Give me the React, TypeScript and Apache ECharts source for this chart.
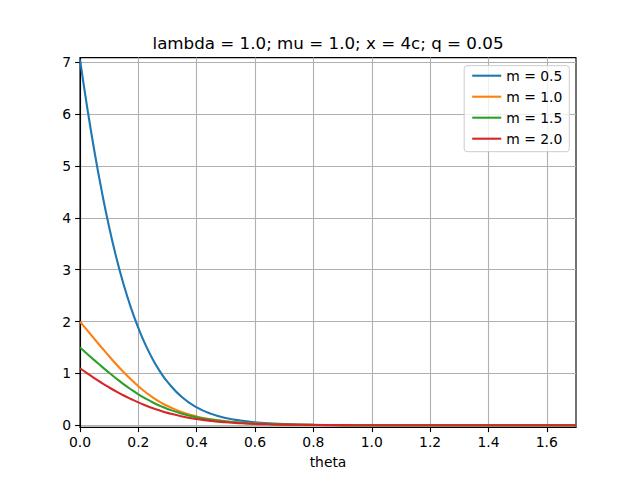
import React, { useEffect, useRef } from "react";
import * as echarts from "echarts";

const theta = [0, 0.025, 0.05, 0.075, 0.1, 0.125, 0.15, 0.175, 0.2, 0.225, 0.25, 0.275, 0.3, 0.35, 0.4, 0.45, 0.5, 0.55, 0.6, 0.65, 0.7, 0.8, 0.9, 1.0, 1.2, 1.4, 1.6, 1.7];
const m05 = [7.05, 6.117, 5.265, 4.5, 3.819, 3.222, 2.705, 2.259, 1.878, 1.545, 1.265, 1.031, 0.836, 0.54, 0.346, 0.22, 0.141, 0.09, 0.057, 0.037, 0.023, 0.0095, 0.0039, 0.0016, 0.0003, 0, 0, 0];
const m10 = [2.0, 1.83, 1.661, 1.494, 1.33, 1.173, 1.023, 0.882, 0.753, 0.637, 0.535, 0.446, 0.372, 0.253, 0.171, 0.115, 0.078, 0.052, 0.035, 0.024, 0.016, 0.007, 0.003, 0.0013, 0.0002, 0, 0, 0];
const m15 = [1.5, 1.375, 1.252, 1.131, 1.012, 0.898, 0.79, 0.69, 0.598, 0.515, 0.44, 0.374, 0.316, 0.223, 0.155, 0.107, 0.073, 0.05, 0.034, 0.023, 0.016, 0.007, 0.003, 0.0014, 0.0002, 0, 0, 0];
const m20 = [1.1, 1.0, 0.905, 0.815, 0.73, 0.65, 0.575, 0.506, 0.441, 0.383, 0.329, 0.282, 0.239, 0.17, 0.12, 0.084, 0.058, 0.04, 0.028, 0.019, 0.013, 0.006, 0.0027, 0.0012, 0.0002, 0, 0, 0];

const seriesNames = ["m = 0.5", "m = 1.0", "m = 1.5", "m = 2.0"];
const seriesValues = [m05, m10, m15, m20];
const colors = ["#1f77b4", "#ff7f0e", "#2ca02c", "#d62728"];
const xTicks = [0, 0.2, 0.4, 0.6, 0.8, 1.0, 1.2, 1.4, 1.6];
const yTicks = [0, 1, 2, 3, 4, 5, 6, 7];
const titleText = "lambda = 1.0; mu = 1.0; x = 4c; q = 0.05";
const xName = "theta";

const FONT = "DejaVu Sans";

export default function App() {
  const ref = useRef<HTMLDivElement>(null);
  useEffect(() => {
    if (!ref.current) return;
    const chart = echarts.init(ref.current, null, { renderer: "svg" });
    const option: any = {
      animation: false,
      backgroundColor: "#ffffff",
      textStyle: { fontFamily: FONT },
      grid: {
        left: 80,
        right: 64,
        top: 57.6,
        bottom: 52.8,
        show: true,
        borderColor: "#000000",
        borderWidth: 1.1,
        backgroundColor: "transparent",
        containLabel: false,
        outerBoundsMode: "none",
      },
      xAxis: {
        type: "value",
        min: 0,
        max: 1.7,
        axisLine: { show: true, onZero: false, lineStyle: { color: "#000", width: 1.1 } },
        axisTick: { show: true, inside: false, length: 4.9, customValues: xTicks, lineStyle: { color: "#000", width: 1.1 } },
        axisLabel: {
          customValues: xTicks,
          margin: 8,
          color: "#000",
          fontFamily: FONT,
          fontSize: 13.9,
          formatter: (v: number) => v.toFixed(1),
        },
        splitLine: { show: true, lineStyle: { color: "#b0b0b0", width: 1.1 } },
      },
      yAxis: {
        type: "value",
        min: -0.037,
        max: 7.09,
        axisLine: { show: true, onZero: false, lineStyle: { color: "#000", width: 1.1 } },
        axisTick: { show: true, inside: false, length: 4.9, customValues: yTicks, lineStyle: { color: "#000", width: 1.1 } },
        axisLabel: {
          customValues: yTicks,
          margin: 9,
          color: "#000",
          fontFamily: FONT,
          fontSize: 13.9,
          formatter: (v: number) => String(Math.round(v)),
        },
        splitLine: { show: true, lineStyle: { color: "#b0b0b0", width: 1.1 } },
      },
      legend: {
        show: true,
        orient: "vertical",
        align: "left",
        right: 70.7,
        top: 65.7,
        itemWidth: 29,
        itemHeight: 14,
        itemGap: 7,
        itemTextGap: 11,
        padding: [3, 7, 6, 7],
        backgroundColor: "rgba(255,255,255,0.8)",
        borderColor: "#cccccc",
        borderWidth: 1,
        borderRadius: 3,
        itemStyle: { opacity: 0 },
        lineStyle: { width: 2.1 },
        textStyle: { color: "#000", fontFamily: FONT, fontSize: 13.9 },
        data: seriesNames,
      },
      graphic: [
        {
          type: "text",
          x: 328,
          y: 43,
          style: {
            text: titleText,
            fill: "#000",
            font: `16.7px "${FONT}"`,
            textAlign: "center",
            textVerticalAlign: "middle",
          },
        },
        {
          type: "text",
          x: 328,
          y: 462,
          style: {
            text: xName,
            fill: "#000",
            font: `13.9px "${FONT}"`,
            textAlign: "center",
            textVerticalAlign: "middle",
          },
        },
      ],
      series: seriesNames.map((name, i) => ({
        name,
        type: "line",
        data: theta.map((t, j) => [t, seriesValues[i][j]]),
        showSymbol: false,
        symbol: "none",
        smooth: 0.5,
        clip: true,
        color: colors[i],
        lineStyle: { color: colors[i], width: 2.1 },
        z: 3 + i,
      })),
    };
    chart.setOption(option);
    return () => chart.dispose();
  }, []);
  return (
    <div
      ref={ref}
      style={{ position: "absolute", left: 0, top: 0, width: 640, height: 480 }}
    />
  );
}
